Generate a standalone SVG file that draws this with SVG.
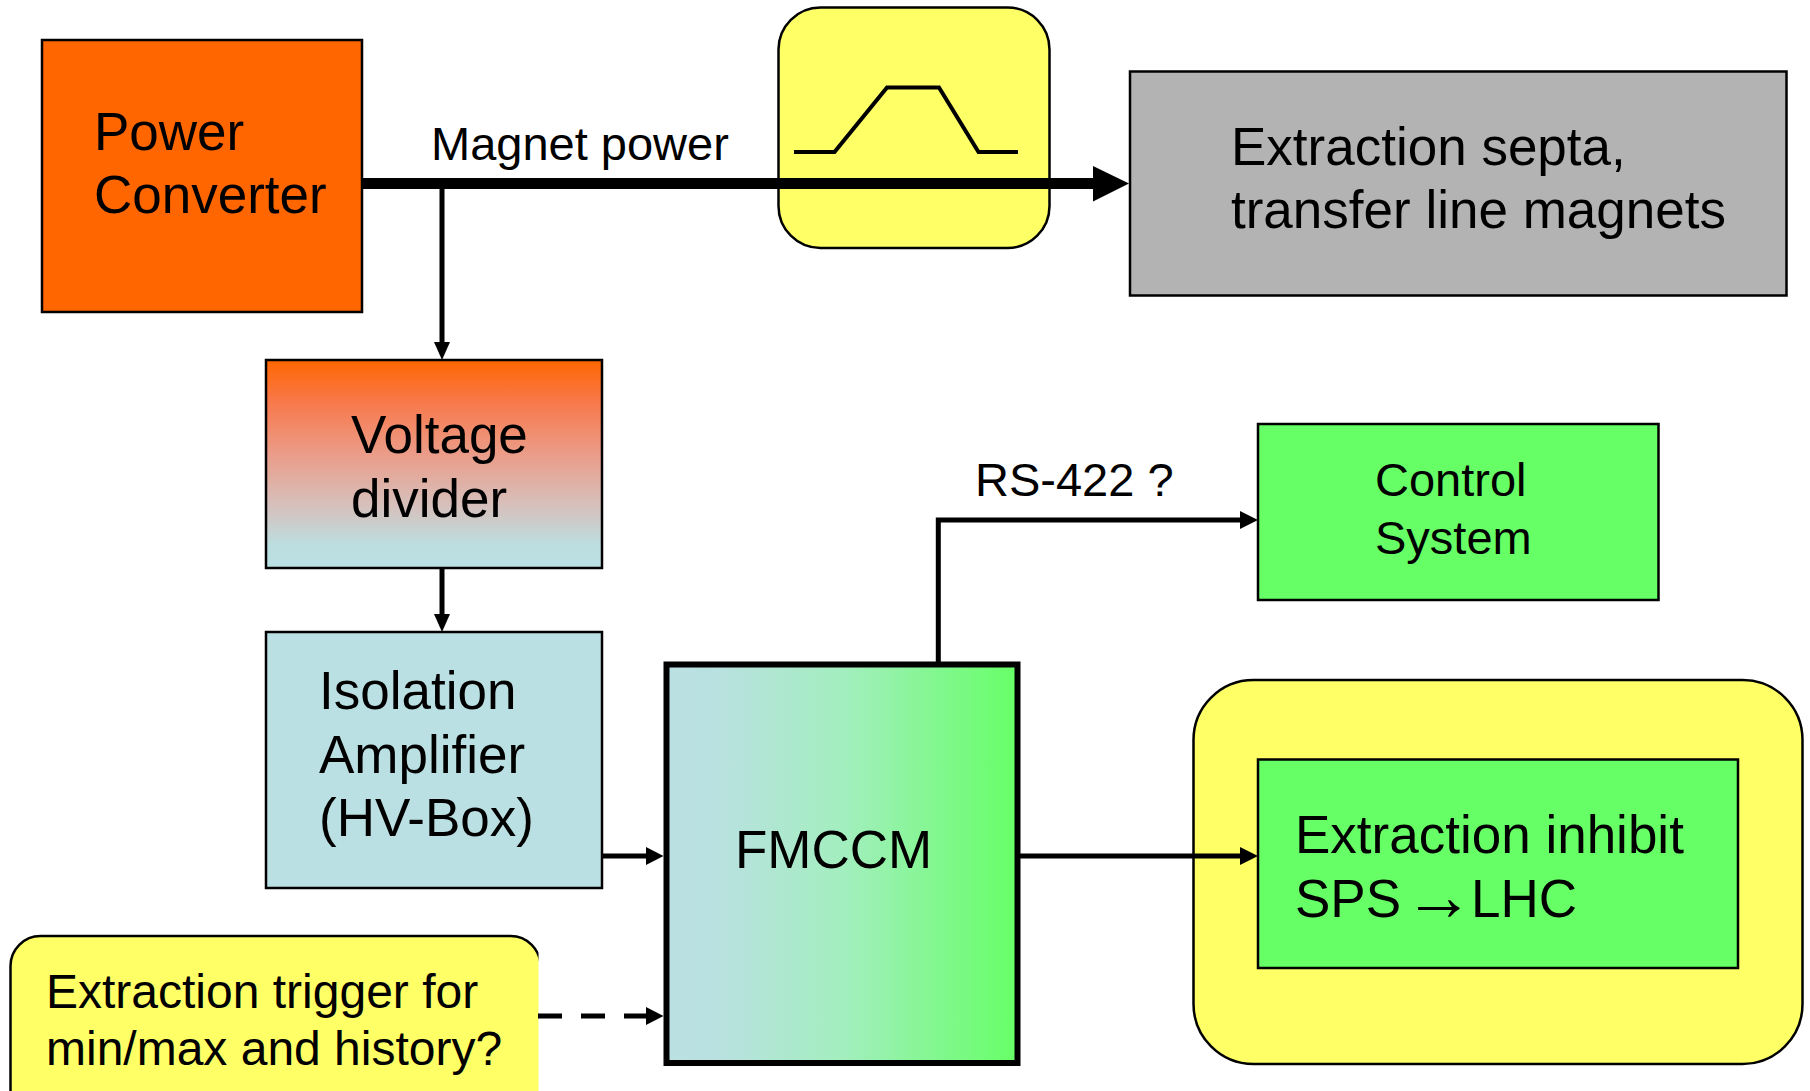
<svg xmlns="http://www.w3.org/2000/svg" width="1810" height="1091" viewBox="0 0 1810 1091">
<defs>
<style>
text{font-family:"Liberation Sans",Arial,sans-serif;fill:#000}
.t53{font-size:53px}
.t47{font-size:47px}
.t48{font-size:48px}
.box{stroke:#000;stroke-width:2.5}
.ln{stroke:#000;stroke-width:5;fill:none}
</style>
<linearGradient id="gVD" x1="0" y1="0" x2="0" y2="1">
<stop offset="0" stop-color="#ff6600"/>
<stop offset="0.2" stop-color="#f8784a"/>
<stop offset="0.45" stop-color="#eb9c88"/>
<stop offset="0.7" stop-color="#d6c0bc"/>
<stop offset="0.9" stop-color="#bbdfe1"/>
<stop offset="1" stop-color="#bbe0e3"/>
</linearGradient>
<linearGradient id="gFM" x1="0" y1="0" x2="1" y2="0">
<stop offset="0" stop-color="#bbe0e3"/>
<stop offset="0.15" stop-color="#b9e1e0"/>
<stop offset="0.5" stop-color="#a3eebf"/>
<stop offset="1" stop-color="#66ff66"/>
</linearGradient>
<clipPath id="clipTrig"><rect x="0" y="900" width="538.5" height="200"/></clipPath>
</defs>

<g id="power-converter">
<rect class="box" x="42" y="40" width="320" height="272" fill="#ff6600"/>
<text class="t53" x="94" y="150">Power</text>
<text class="t53" x="94" y="213">Converter</text>
</g>

<g id="pulse-shape">
<rect class="box" x="778.5" y="7.5" width="271" height="240.5" rx="42" ry="42" fill="#ffff66" stroke-width="2"/>
<polyline points="794,152 834.5,152 887,87.5 939,87.5 978.5,152 1018,152" fill="none" stroke="#000" stroke-width="4"/>
</g>

<g id="extraction-septa">
<rect class="box" x="1130" y="71.5" width="656.5" height="224" fill="#b3b3b3"/>
<text class="t53" x="1231" y="165">Extraction septa,</text>
<text class="t53" x="1231" y="228">transfer line magnets</text>
</g>

<g id="voltage-divider">
<rect class="box" x="266" y="360" width="336" height="208" fill="url(#gVD)"/>
<text class="t53" x="351" y="453">Voltage</text>
<text class="t53" x="351" y="517">divider</text>
</g>

<g id="isolation-amplifier">
<rect class="box" x="266" y="632" width="336" height="256" fill="#bbe0e3"/>
<text class="t53" x="319" y="709">Isolation</text>
<text class="t53" x="319" y="773">Amplifier</text>
<text class="t53" x="319" y="836">(HV-Box)</text>
</g>

<g id="fmccm">
<rect x="666.5" y="664.5" width="351" height="398.5" fill="url(#gFM)" stroke="#000" stroke-width="6"/>
<text class="t53" x="735" y="868">FMCCM</text>
</g>

<g id="control-system">
<rect class="box" x="1258" y="424" width="400.5" height="176" fill="#66ff66"/>
<text class="t47" x="1375" y="496">Control</text>
<text class="t47" x="1375" y="554">System</text>
</g>

<g id="extraction-inhibit">
<rect class="box" x="1193.5" y="680" width="609" height="384" rx="60" ry="60" fill="#ffff66" stroke-width="2.5"/>
<rect class="box" x="1258" y="759.5" width="480" height="208.5" fill="#66ff66"/>
<text class="t53" x="1295" y="853">Extraction inhibit</text>
<text class="t53" x="1295" y="917">SPS <tspan x="1404" dy="3" font-size="70">→</tspan><tspan x="1471" dy="-3">LHC</tspan></text>
</g>

<g id="extraction-trigger">
<g clip-path="url(#clipTrig)">
<rect x="10.5" y="936" width="530" height="200" rx="30" ry="30" fill="#ffff66" stroke="#000" stroke-width="2.5"/>
</g>
<text class="t48" x="46" y="1008">Extraction trigger for</text>
<text class="t48" x="46" y="1065">min/max and history?</text>
</g>

<g id="connectors">
<line x1="362" y1="183.5" x2="1095" y2="183.5" stroke="#000" stroke-width="11"/>
<polygon points="1093,166 1129,183.5 1093,201.5"/>
<text class="t47" x="431" y="160">Magnet power</text>

<line class="ln" x1="442" y1="189" x2="442" y2="343"/>
<polygon points="434,342 450,342 442,360"/>

<line class="ln" x1="442" y1="568" x2="442" y2="615"/>
<polygon points="434,614 450,614 442,632"/>

<line class="ln" x1="602" y1="856" x2="648" y2="856"/>
<polygon points="646,847 646,865 663.5,856"/>

<line class="ln" x1="538" y1="1016" x2="648" y2="1016" stroke-dasharray="24 19"/>
<polygon points="646,1007 646,1025 663.5,1016"/>

<path class="ln" d="M938.3,662 V520 H1242"/>
<polygon points="1240,511 1240,529 1258,520"/>
<text class="t47" x="975" y="496">RS-422 ?</text>

<line class="ln" x1="1020" y1="856" x2="1242" y2="856"/>
<polygon points="1240,847 1240,865 1258,856"/>
</g>
</svg>
